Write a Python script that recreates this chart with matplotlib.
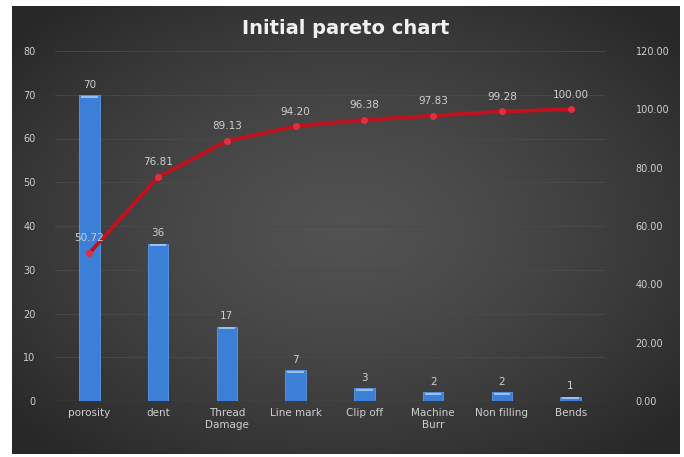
import numpy as np
import matplotlib.pyplot as plt

categories = ['porosity', 'dent', 'Thread\nDamage', 'Line mark', 'Clip off',
              'Machine\nBurr', 'Non filling', 'Bends']
counts = [70, 36, 17, 7, 3, 2, 2, 1]
cumulative = [50.72, 76.81, 89.13, 94.20, 96.38, 97.83, 99.28, 100.00]

txt = '#cfcfcf'

fig = plt.figure(figsize=(6.84, 4.57), dpi=100)
fig.patch.set_facecolor('white')

# dark radial-gradient background of the chart frame
bg = fig.add_axes([12 / 684, 3 / 457, 668 / 684, 448 / 457])
yy, xx = np.mgrid[-1:1:200j, -1:1:300j]
r = np.clip(np.sqrt(xx ** 2 + yy ** 2) / 1.3, 0, 1)
v = 0.32 - 0.16 * r ** 1.4
bg.imshow(np.dstack([v, v, v]), aspect='auto', extent=[0, 1, 0, 1])
bg.set_axis_off()

ax = fig.add_axes([55 / 684, 56 / 457, 550 / 684, 350 / 457])
ax.patch.set_alpha(0)
x = np.arange(len(categories))
ax.bar(x, counts, width=0.3, color='#3b7fd6', edgecolor='#5b9ae8', linewidth=0.6, zorder=2)
for xi, c in zip(x, counts):
    ax.hlines(c - 0.4, xi - 0.12, xi + 0.12, color='#a9cdf5', lw=1.2, zorder=3)
    ax.text(xi, c + 1.2, str(c), ha='center', va='bottom', color=txt, fontsize=7.5, zorder=4)

ax.set_ylim(0, 80)
ax.set_xlim(-0.5, len(categories) - 0.5)
ax.set_yticks(range(0, 81, 10))
ax.grid(axis='y', color='#4a4a4a', lw=0.6, zorder=0)
ax.set_xticks(x)
ax.set_xticklabels(categories, color=txt, fontsize=7.5)
ax.tick_params(axis='y', colors=txt, labelsize=7, length=0, pad=14)
ax.tick_params(axis='x', length=0, pad=5)
for s in ax.spines.values():
    s.set_visible(False)
ax.axhline(0, color='#7a7a7a', lw=0.8, zorder=1)

ax2 = ax.twinx()
ax2.set_ylim(0, 120)
ax2.set_yticks(range(0, 121, 20))
ax2.set_yticklabels([f'{v:.2f}' for v in range(0, 121, 20)])
ax2.tick_params(axis='y', colors=txt, labelsize=7, length=0, pad=22)
for s in ax2.spines.values():
    s.set_visible(False)
ax2.plot(x, cumulative, color='#c0111f', lw=2.8, marker='o', markersize=4,
         markerfacecolor='#e03040', markeredgecolor='#e03040', zorder=5)
for xi, c in zip(x, cumulative):
    ax2.annotate(f'{c:.2f}', (xi, c), textcoords='offset points', xytext=(0, 7),
                 ha='center', va='bottom', color=txt, fontsize=7.5, zorder=6)

fig.text(346 / 684, 1 - 28 / 457, 'Initial pareto chart', ha='center', va='center',
         color='#f0f0f0', fontsize=14, fontweight='bold')

fig.savefig('out.png', dpi=100)
